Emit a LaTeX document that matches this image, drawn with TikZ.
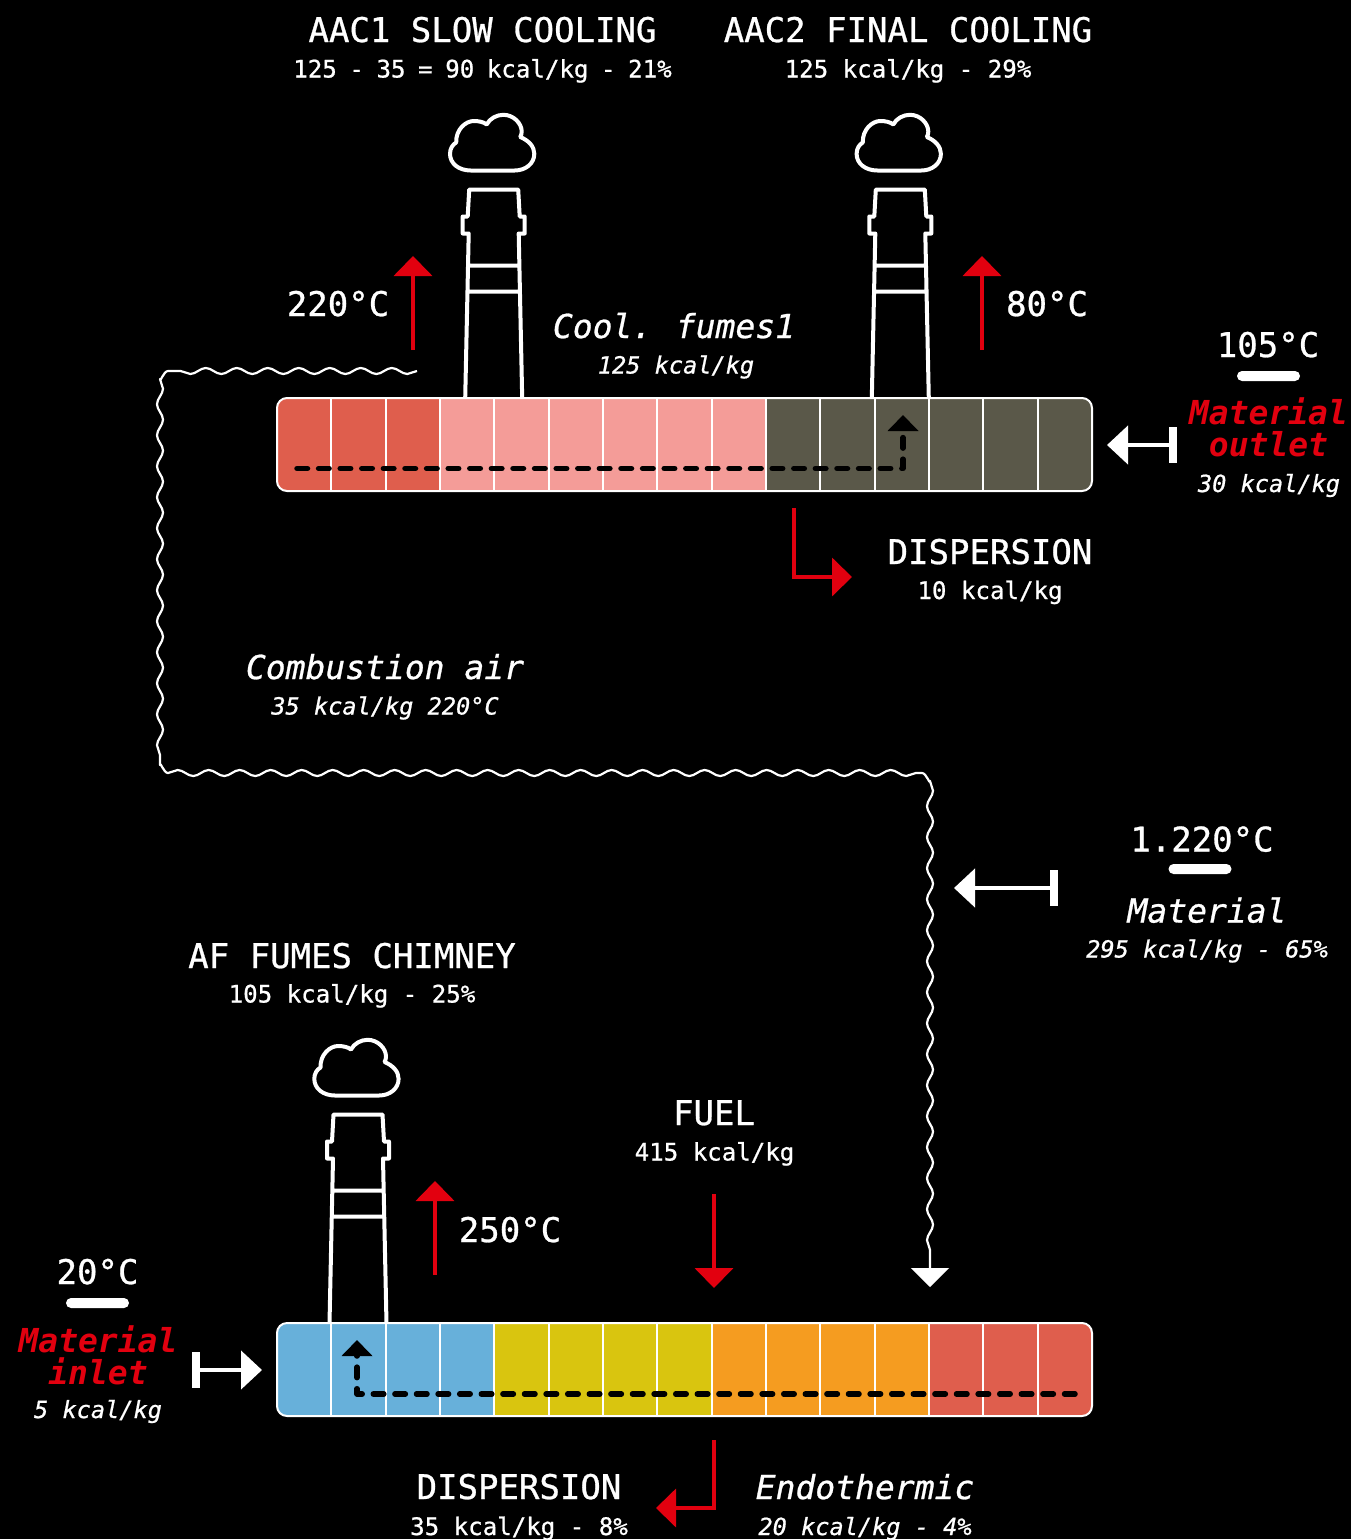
\documentclass[tikz,border=0pt]{standalone}
\usepackage{fontspec}
\setmainfont{DejaVu Sans Mono}[UprightFeatures={FakeBold=0.8},ItalicFeatures={FakeBold=0.8}]
\usetikzlibrary{arrows.meta,decorations.pathmorphing}

\definecolor{redmark}{HTML}{E2000F}
\definecolor{hotred}{HTML}{DF5E4D}
\definecolor{lightred}{HTML}{F49C98}
\definecolor{darkgrey}{HTML}{5A5849}
\definecolor{coldblue}{HTML}{67B0DA}
\definecolor{warmyellow}{HTML}{D9C50F}
\definecolor{warmorange}{HTML}{F59C20}

\begin{document}
\begin{tikzpicture}[
  x=1pt, y=-1pt,
  head/.style={anchor=base, inner sep=0pt, text=white, font=\fontsize{34}{34}\selectfont},
  sub/.style={anchor=base, inner sep=0pt, text=white, font=\fontsize{24.1}{26}\selectfont},
  headit/.style={head, font=\fontsize{33}{34}\selectfont\itshape},
  subit/.style={sub, font=\fontsize{23.6}{26}\selectfont\itshape},
  redit/.style={anchor=base, inner sep=0pt, text=redmark, font=\fontsize{33}{34}\selectfont\bfseries\itshape},
  pill/.style={rectangle, rounded corners=5pt, fill=white, minimum width=63pt, minimum height=10pt, inner sep=0pt},
  bar/.style={rectangle, rounded corners=10pt, draw=white, line width=2pt, minimum width=815pt, minimum height=93pt, inner sep=0pt},
  redarrow/.style={draw=redmark, line width=4pt, -{Triangle[length=20pt,width=38pt]}},
  tee/.style={draw=white, line width=4.5pt, {Rectangle[length=8pt,width=36pt]}-{Triangle[length=21pt,width=38pt]}},
  flow/.style={draw=black, line width=5.5pt, line cap=round, line join=round, dash pattern=on 10.5pt off 11.1pt, -{Triangle[length=16pt,width=30pt]}},
  wave/.style={draw=white, line width=2.2pt, line join=round,
               decoration={snake, segment length=31pt, amplitude=3pt},
               -{Triangle[length=19pt,width=38pt]}},
  chimney/.pic={
    \draw[white, line width=4pt, line join=round]
      (-28.5,209) -- (-25,44) -- (-31,44) -- (-31,27) -- (-26,27) -- (-24.5,0)
      -- (24.5,0) -- (26,27) -- (31,27) -- (31,44) -- (25,44) -- (28.5,209)
      (-26.5,76) -- (26.5,76) (-27,102) -- (27,102);
    \draw[white, line width=4pt, line join=round]
      (-23,-19) .. controls (-35,-19) and (-43.7,-26) .. (-43.7,-35.7)
      .. controls (-43.7,-41) and (-41,-45) .. (-37.5,-47)
      .. controls (-38,-60) and (-28,-68.5) .. (-20,-68.5)
      .. controls (-15,-68.5) and (-10,-67.5) .. (-7,-65)
      .. controls (-4,-71) and (3,-74.7) .. (9.6,-74.7)
      .. controls (20,-74.7) and (28,-66) .. (28,-58)
      .. controls (28,-56) and (27.5,-54) .. (26.5,-52.5)
      .. controls (35,-49) and (40.6,-43) .. (40.6,-35.7)
      .. controls (40.6,-26) and (32,-19) .. (21,-19) -- cycle;
  },
]

\path[use as bounding box, fill=black] (0,0) rectangle (1351,1539);

\begin{scope}
  \clip[rounded corners=10pt] (277,398) rectangle (1092,491);
  \foreach \i/\col in {0/hotred,1/hotred,2/hotred,3/lightred,4/lightred,5/lightred,6/lightred,7/lightred,8/lightred,9/darkgrey,10/darkgrey,11/darkgrey,12/darkgrey,13/darkgrey,14/darkgrey}
    \fill[\col] ({277+\i*54.33},398) rectangle ({277+(\i+1)*54.33},491);
  \foreach \i in {1,...,14}
    \draw[white, line width=2pt] ({277+\i*54.33},398) -- ({277+\i*54.33},491);
\end{scope}
\begin{scope}
  \clip[rounded corners=10pt] (277,1323) rectangle (1092,1416);
  \foreach \i/\col in {0/coldblue,1/coldblue,2/coldblue,3/coldblue,4/warmyellow,5/warmyellow,6/warmyellow,7/warmyellow,8/warmorange,9/warmorange,10/warmorange,11/warmorange,12/hotred,13/hotred,14/hotred}
    \fill[\col] ({277+\i*54.33},1323) rectangle ({277+(\i+1)*54.33},1416);
  \foreach \i in {1,...,14}
    \draw[white, line width=2pt] ({277+\i*54.33},1323) -- ({277+\i*54.33},1416);
\end{scope}
\node[bar] (upbar) at (684.5,444.5) {};
\node[bar] (lowbar) at (684.5,1369.5) {};

\pic at (493.7,189.5) {chimney};
\pic at (900.3,189.5) {chimney};
\pic at (358,1114.5) {chimney};

\node[head] (aac1) at (482.5,42) {AAC1 SLOW COOLING};
\node[sub] (aac1sub) at (482.5,77.5) {\spaceskip=12.6pt 125 - 35 = 90 kcal/kg - 21\%};
\node[head] (aac2) at (908,42) {AAC2 FINAL COOLING};
\node[sub] (aac2sub) at (908,77.5) {125 kcal/kg - 29\%};
\node[head] (t220) at (338,316) {220°C};
\node[head] (t80) at (1047,316) {80°C};
\node[headit] (cool) at (674,338) {\spaceskip=17pt Cool. fumes1};
\node[subit] (coolsub) at (676,373.5) {125 kcal/kg};
\node[head] (t105) at (1268,357) {105°C};
\node[pill] (p105) at (1268.5,376) {};
\node[redit] (outa) at (1268.5,424) {Material};
\node[redit] (outb) at (1268.5,456) {outlet};
\node[subit] (outsub) at (1269,492) {30 kcal/kg};
\node[head] (disp1) at (990,564) {DISPERSION};
\node[sub] (disp1sub) at (990,599) {10 kcal/kg};
\node[headit] (comb) at (385,679) {Combustion air};
\node[subit] (combsub) at (385,714.5) {35 kcal/kg 220°C};
\node[head] (t1220) at (1202,851.5) {1.220°C};
\node[pill] (p1220) at (1200,869) {};
\node[headit] (mat) at (1207,922.5) {Material};
\node[subit] (matsub) at (1207,957.5) {295 kcal/kg - 65\%};
\node[head] (af) at (352,968) {AF FUMES CHIMNEY};
\node[sub] (afsub) at (352,1002.5) {105 kcal/kg - 25\%};
\node[head] (fuel) at (714,1125) {FUEL};
\node[sub] (fuelsub) at (714.5,1160.5) {415 kcal/kg};
\node[head] (t250) at (510,1242) {250°C};
\node[head] (t20) at (97.5,1284) {20°C};
\node[pill] (p20) at (97.5,1303) {};
\node[redit] (ina) at (98,1352) {Material};
\node[redit] (inb) at (98,1384) {inlet};
\node[subit] (insub) at (98,1418) {5 kcal/kg};
\node[head] (disp2) at (519,1499) {DISPERSION};
\node[sub] (disp2sub) at (519,1535) {35 kcal/kg - 8\%};
\node[headit] (endo) at (865,1499) {Endothermic};
\node[subit] (endosub) at (865,1535) {20 kcal/kg - 4\%};

\coordinate (afrom) at (413,350);
\coordinate (ato) at (413,256);
\coordinate (bfrom) at (982,350);
\coordinate (bto) at (982,256);
\coordinate (cfrom) at (435,1275);
\coordinate (cto) at (435,1181);
\coordinate (fuelfrom) at (714,1194);
\coordinate (fuelto) at (714,1288);
\coordinate (dfrom) at (794,508);
\coordinate (dto) at (852,577);
\coordinate (efrom) at (714,1440);
\coordinate (eto) at (656,1508);

\draw[redarrow] (afrom) -- (ato);
\draw[redarrow] (bfrom) -- (bto);
\draw[redarrow] (cfrom) -- (cto);
\draw[redarrow] (fuelfrom) -- (fuelto);
\draw[redarrow] (dfrom) |- (dto);
\draw[redarrow] (efrom) |- (eto);

\coordinate (outfrom) at (1177,445);
\coordinate (outto) at (1107,445);
\coordinate (matfrom) at (1058,888);
\coordinate (matto) at (954,888);
\coordinate (infrom) at (192,1370);
\coordinate (into) at (262,1370);

\draw[tee] (outfrom) -- (outto);
\draw[tee] (matfrom) -- (matto);
\draw[tee] (infrom) -- (into);

\coordinate (fa) at (297,468.5);
\coordinate (fb) at (903,468.5);
\coordinate (fc) at (903,415);
\coordinate (ga) at (1075,1394);
\coordinate (gb) at (357,1394);
\coordinate (gc) at (357,1340);

\draw[flow] (fa) -- (fb) -- (fc);
\draw[flow] (ga) -- (gb) -- (gc);

\coordinate (wa) at (417,371);
\coordinate (wb) at (168,371);
\coordinate (wc) at (160,379);
\coordinate (wd) at (160,765);
\coordinate (we) at (168,773);
\coordinate (wf) at (922,773);
\coordinate (wg) at (930,781);
\coordinate (wh) at (930,1265);
\coordinate (wi) at (930,1287);

\draw[wave] decorate {(wa) -- (wb)} to[out=180, in=-90] (wc)
  decorate {-- (wd)} to[out=90, in=180] (we)
  decorate {-- (wf)} to[out=0, in=-90] (wg)
  decorate {-- (wh)} -- (wi);

\end{tikzpicture}
\end{document}
